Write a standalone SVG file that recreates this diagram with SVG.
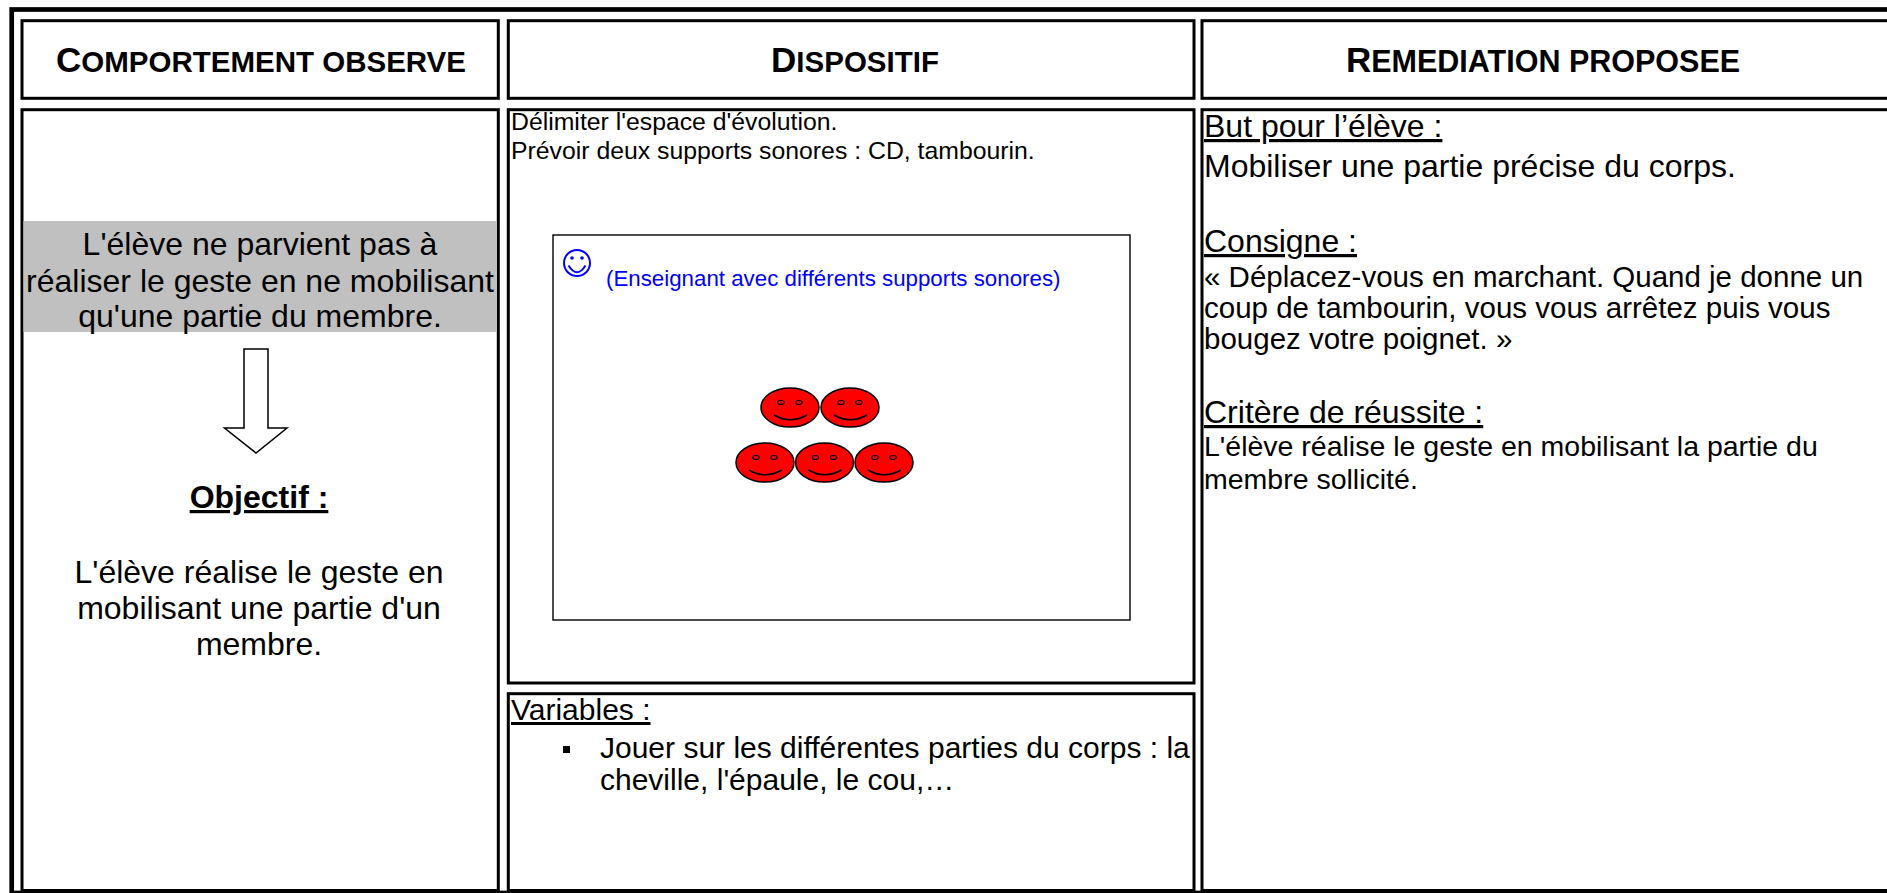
<svg xmlns="http://www.w3.org/2000/svg" width="1887" height="893" viewBox="0 0 1887 893">
<style>
text { font-family: "Liberation Sans", Arial, sans-serif; fill: #000; }
.hd { font-weight: bold; }
.box { fill: #fff; stroke: #000; stroke-width: 3; }
.t32 { font-size: 32px; }
.t30 { font-size: 30px; }
.t29 { font-size: 29.5px; }
.t28 { font-size: 28.5px; }
.t25 { font-size: 24.8px; }
.u { text-decoration: underline; }
.mid { text-anchor: middle; }
.face { fill: #ff0000; stroke: #000; stroke-width: 1.5; }
.eye { fill: #ff0000; stroke: #000; stroke-width: 1.2; }
.smile { fill: none; stroke: #000; stroke-width: 1.5; }
</style>
<defs>
<g id="face">
<ellipse class="face" cx="0" cy="0" rx="29" ry="19.5"/>
<ellipse class="eye" cx="-9" cy="-5" rx="3.2" ry="2"/>
<ellipse class="eye" cx="9" cy="-5" rx="3.2" ry="2"/>
<path class="smile" d="M -16 7.5 Q 0 17 17 7.5"/>
</g>
</defs>
<rect width="1887" height="893" fill="#fff"/>
<rect id="outer" x="11.7" y="9.5" width="1890" height="883.5" fill="none" stroke="#000" stroke-width="4.7"/>

<g id="header-comportement">
<rect class="box" x="22" y="20.7" width="476.3" height="77.6"/>
<text class="hd mid" x="261" y="72"><tspan font-size="35">C</tspan><tspan font-size="29.5">OMPORTEMENT OBSERVE</tspan></text>
</g>
<g id="header-dispositif">
<rect class="box" x="508.3" y="20.7" width="685.7" height="77.6"/>
<text class="hd mid" x="855" y="72"><tspan font-size="35">D</tspan><tspan font-size="29.5">ISPOSITIF</tspan></text>
</g>
<g id="header-remediation">
<rect class="box" x="1202" y="20.7" width="700" height="77.6"/>
<text class="hd mid" x="1543" y="72"><tspan font-size="35">R</tspan><tspan font-size="30.5">EMEDIATION PROPOSEE</tspan></text>
</g>

<g id="comportement">
<rect class="box" x="22" y="109.7" width="476.3" height="780.8"/>
<rect x="23.5" y="221" width="473.3" height="111" fill="#c0c0c0"/>
<text class="t32 mid" x="260" y="255">L'élève ne parvient pas à</text>
<text class="t32 mid" x="260" y="292">réaliser le geste en ne mobilisant</text>
<text class="t32 mid" x="260" y="327">qu'une partie du membre.</text>
<text class="t32 mid hd u" x="259" y="508">Objectif :</text>
<text class="t32 mid" x="259" y="583">L'élève réalise le geste en</text>
<text class="t32 mid" x="259" y="619">mobilisant une partie d'un</text>
<text class="t32 mid" x="259" y="655">membre.</text>
</g>

<g id="connectors">
<polygon points="244,349 268,349 268,428 287,428 256,453 224.5,428 244,428" fill="#fff" stroke="#000" stroke-width="1.5" stroke-linejoin="miter"/>
</g>

<g id="dispositif">
<rect class="box" x="508.3" y="109.7" width="685.7" height="573.3"/>
<text class="t25" x="511" y="130">Délimiter l'espace d'évolution.</text>
<text class="t25" x="511" y="159">Prévoir deux supports sonores : CD, tambourin.</text>
<rect x="553" y="235" width="577" height="385" fill="#fff" stroke="#000" stroke-width="1.4"/>
<g id="enseignant">
<circle cx="577" cy="263" r="13" fill="none" stroke="#0000ff" stroke-width="2"/>
<circle cx="572" cy="258" r="1.8" fill="#0000ff"/>
<circle cx="582" cy="258" r="1.8" fill="#0000ff"/>
<path d="M 568.5 265.5 Q 577 279 585.5 265.5" fill="none" stroke="#0000ff" stroke-width="2"/>
<text x="606" y="286" font-size="22.3" style="fill:#0000ff">(Enseignant avec différents supports sonores)</text>
</g>
<g id="eleves">
<use href="#face" x="790" y="407.5"/>
<use href="#face" x="850" y="407.5"/>
<use href="#face" x="765" y="462.5"/>
<use href="#face" x="824.5" y="462.5"/>
<use href="#face" x="884" y="462.5"/>
</g>
</g>

<g id="variables">
<rect class="box" x="508.3" y="693.7" width="685.7" height="196.8"/>
<text class="t30 u" x="511" y="720">Variables :</text>
<rect x="563" y="746" width="7" height="7" fill="#000"/>
<text class="t30" x="600" y="758">Jouer sur les différentes parties du corps : la</text>
<text class="t30" x="600" y="790">cheville, l'épaule, le cou,…</text>
</g>

<g id="remediation">
<rect class="box" x="1202" y="109.7" width="700" height="780.8"/>
<text class="t32 u" x="1204" y="137">But pour l’élève :</text>
<text class="t32" x="1204" y="177">Mobiliser une partie précise du corps.</text>
<text class="t32 u" x="1204" y="252">Consigne :</text>
<text class="t29" x="1204" y="287">« Déplacez-vous en marchant. Quand je donne un</text>
<text class="t29" x="1204" y="318">coup de tambourin, vous vous arrêtez puis vous</text>
<text class="t29" x="1204" y="349">bougez votre poignet. »</text>
<text class="t32 u" x="1204" y="423">Critère de réussite :</text>
<text class="t28" x="1204" y="456">L'élève réalise le geste en mobilisant la partie du</text>
<text class="t28" x="1204" y="489">membre sollicité.</text>
</g>
</svg>
